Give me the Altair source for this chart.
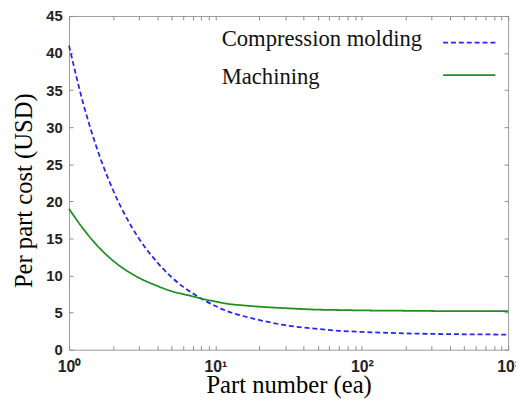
import altair as alt
import pandas as pd

# ---- data ----
part_number = [1, 1.25, 1.5, 2, 2.5, 3, 4, 5, 6, 7, 8, 10, 12, 15, 20, 30, 50, 70, 100, 200, 300, 500, 1000]
compression_cost = [41.0, 33.2, 28.0, 21.5, 17.6, 15.0, 11.8, 9.8, 8.5, 7.6, 6.9, 5.9, 5.2, 4.6, 4.0, 3.3, 2.8, 2.55, 2.4, 2.2, 2.13, 2.08, 2.04]
machining_cost = [19.0, 16.3, 14.4, 12.0, 10.6, 9.7, 8.6, 7.9, 7.5, 7.2, 6.9, 6.5, 6.2, 6.0, 5.8, 5.6, 5.4, 5.35, 5.3, 5.25, 5.22, 5.2, 5.2]
series_names = ["Compression molding", "Machining"]
series_colors = ["#2626f0", "#1f8f1f"]
series_dashes = [[5, 3], [1, 0]]
y_ticks = [0, 5, 10, 15, 20, 25, 30, 35, 40, 45]
x_ticks = [1, 2, 3, 4, 5, 6, 7, 8, 9,
           10, 20, 30, 40, 50, 60, 70, 80, 90,
           100, 200, 300, 400, 500, 600, 700, 800, 900, 1000]
x_label_expr = ("datum.value == 1 ? '10\u2070' : datum.value == 10 ? '10\u00b9' : "
                "datum.value == 100 ? '10\u00b2' : datum.value == 1000 ? '10\u00b3' : ''")

rows = []
for name, vals in zip(series_names, [compression_cost, machining_cost]):
    for n, v in zip(part_number, vals):
        rows.append({"n": n, "cost": v, "series": name})
df = pd.DataFrame(rows)

x_scale = alt.Scale(type="log", domain=[1, 1000], nice=False)
y_scale = alt.Scale(domain=[0, 45], nice=False)

# legend showing only the line samples (top-right, labels empty)
symbol_legend = alt.Legend(
    title=None, orient="top-right", offset=12,
    symbolType="stroke", symbolSize=2809, symbolStrokeWidth=1.8,
    clipHeight=30, rowPadding=3, padding=0,
    labelExpr="''", labelOffset=0,
)
# legend showing only the series names, to the left of the samples
label_legend = alt.Legend(
    title=None, orient="none", legendX=132, legendY=14,
    symbolType="stroke", symbolSize=1, symbolStrokeWidth=0, symbolOpacity=0,
    clipHeight=20, rowPadding=15, padding=0,
    labelFont="Liberation Serif", labelFontSize=23, labelColor="#111",
    labelOffset=0, labelLimit=400,
)

lines = alt.Chart(df).mark_line(strokeWidth=1.8, interpolate="monotone").encode(
    x=alt.X("n:Q", scale=x_scale, axis=alt.Axis(
        orient="bottom", values=x_ticks, labelExpr=x_label_expr, offset=-4, tickSize=4,
        labelPadding=9, labelFlush=False, labelOverlap=False, labelFontSize=16,
        title="Part number (ea)", titleX=223, titleY=47, titleBaseline="alphabetic",
        titleAlign="center")),
    y=alt.Y("cost:Q", scale=y_scale, axis=alt.Axis(
        orient="left", values=y_ticks, offset=-4, tickSize=4, labelPadding=7,
        title="Per part cost (USD)", titleX=-50, titleY=177, titleBaseline="middle",
        titleAlign="center")),
    color=alt.Color("series:N", scale=alt.Scale(domain=series_names, range=series_colors), legend=symbol_legend),
    strokeDash=alt.StrokeDash("series:N", scale=alt.Scale(domain=series_names, range=series_dashes), legend=symbol_legend),
    opacity=alt.Opacity("series:N", scale=alt.Scale(domain=series_names, range=[1, 1]), legend=label_legend),
)

ghost = alt.Chart(df).mark_line(opacity=0).encode(
    x=alt.X("n:Q", scale=x_scale, axis=alt.Axis(
        orient="top", values=x_ticks, labels=False, offset=-4, tickSize=4, title=None)),
    y=alt.Y("cost:Q", scale=y_scale, axis=alt.Axis(
        orient="right", values=y_ticks, labels=False, offset=-4, tickSize=4, title=None)),
    detail="series:N",
)

chart = alt.layer(lines, ghost).resolve_axis(
    x="independent", y="independent"
).properties(
    width=446, height=339,
    padding={"left": 62, "top": 5, "right": 8, "bottom": 48},
    autosize=alt.AutoSizeParams(type="none"),
).configure_view(
    stroke="#9a9a9a", strokeWidth=1
).configure_axis(
    domain=False, grid=False, tickColor="#8a8a8a", tickWidth=1,
    labelFont="Liberation Sans", labelFontWeight="bold", labelFontSize=15, labelColor="#222",
    titleFont="Liberation Serif", titleFontWeight="normal", titleFontSize=25, titleColor="#000",
)

chart.save("out.html", embed_options={"renderer": "svg", "actions": False})
